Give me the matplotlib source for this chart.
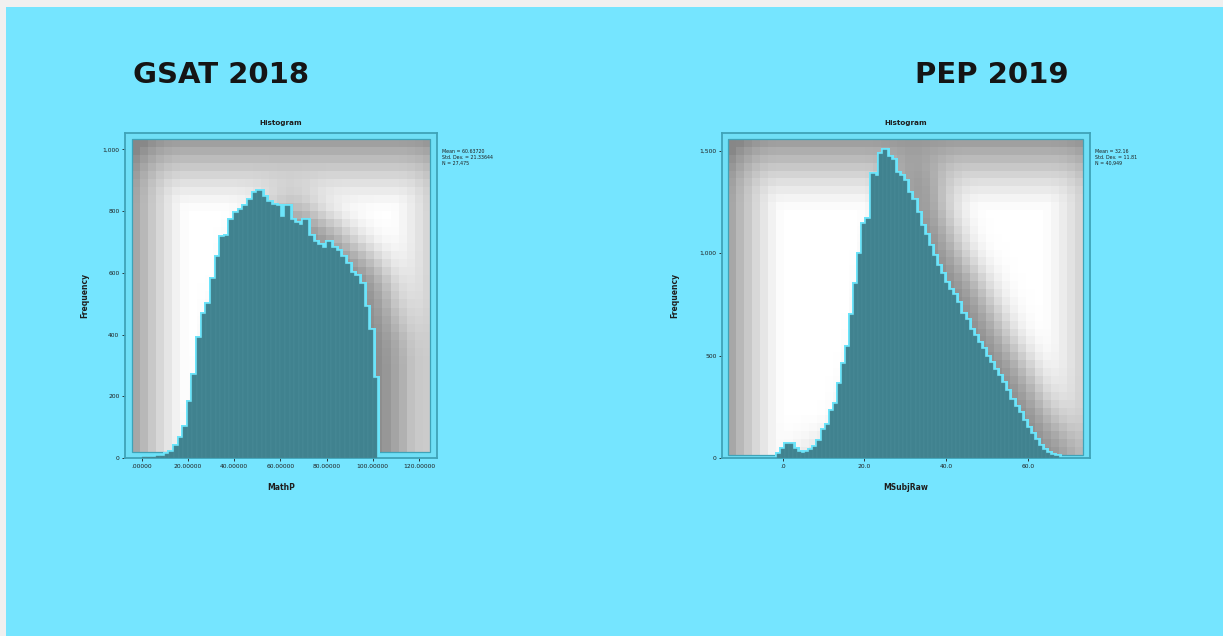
import numpy as np
import matplotlib
matplotlib.use("Agg")
import matplotlib.pyplot as plt
from matplotlib.patches import Rectangle

W, H, DPI = 1223, 636, 100

# GSAT 2018 maths percentage, bins of width 2
gsat_edges = np.arange(0, 104, 2)
gsat_counts = [2, 3, 4, 6, 8, 12, 20, 40, 65, 100,
               180, 270, 390, 465, 500, 580, 650, 715, 720, 770,
               795, 805, 815, 835, 860, 865, 845, 830, 820, 815,
               780, 815, 770, 760, 755, 770, 720, 700, 690, 680,
               700, 680, 670, 650, 630, 600, 590, 565, 490, 415, 260]
gsat_xticks = [0, 20, 40, 60, 80, 100, 120]
gsat_xticklabels = [".00000", "20.00000", "40.00000", "60.00000",
                    "80.00000", "100.00000", "120.00000"]
gsat_yticks = [0, 200, 400, 600, 800, 1000]
gsat_yticklabels = ["0", "200", "400", "600", "800", "1,000"]

# PEP 2019 maths raw score, one bar per mark (-1 .. 67)
pep_edges = np.arange(-1.5, 68.0, 1)
pep_counts = [20, 45, 70, 70, 45, 28, 22, 30, 38, 55,
              85, 135, 160, 230, 265, 360, 460, 540, 700, 850,
              995, 1140, 1165, 1385, 1375, 1485, 1505, 1470, 1455, 1390,
              1375, 1350, 1295, 1260, 1195, 1130, 1090, 1035, 985, 935,
              900, 855, 820, 795, 755, 705, 675, 625, 595, 560,
              530, 495, 465, 430, 400, 365, 325, 285, 250, 220,
              180, 145, 115, 90, 58, 40, 25, 15, 8]
pep_xticks = [0, 20, 40, 60]
pep_xticklabels = [".0", "20.0", "40.0", "60.0"]
pep_yticks = [0, 500, 1000, 1500]
pep_yticklabels = ["0", "500", "1,000", "1,500"]

CYAN = "#75E5FF"
FRAME = "#3FA3B8"
BAR = "#40828F"
HALO = "#6CE4FA"
INK = "#1E1E1E"

fig = plt.figure(figsize=(W / DPI, H / DPI), dpi=DPI, facecolor="#F0F0F0")
fig.patches.append(Rectangle((6 / W, 0), 1 - 6 / W, 1 - 7 / H,
                             transform=fig.transFigure, facecolor=CYAN,
                             edgecolor="none", zorder=-10))


def ftext(x, y, s, **kw):
    return fig.text(x / W, 1 - y / H, s, **kw)


def stats_text(edges, counts, dec):
    c = np.asarray(counts, float)
    mid = (np.asarray(edges[:-1]) + np.asarray(edges[1:])) / 2
    n = c.sum()
    mean = (c * mid).sum() / n
    sd = np.sqrt((c * (mid - mean) ** 2).sum() / (n - 1))
    return "Mean = %.*f\nStd. Dev. = %.*f\nN = %s" % (dec, mean, dec, sd,
                                                      format(int(n), ","))


def smooth(a, k):
    k = np.asarray(k, float)
    k /= k.sum()
    pad = len(k) // 2
    a = np.apply_along_axis(
        lambda r: np.convolve(np.pad(r, pad, mode="edge"), k, "valid"), 1, a)
    a = np.apply_along_axis(
        lambda r: np.convolve(np.pad(r, pad, mode="edge"), k, "valid"), 0, a)
    return a


def panel(box, xlim, ylim, edges, counts, xticks, xticklabels,
          yticks, yticklabels, xlabel, stats, inset):
    x0, y0, x1, y1 = box
    ax = fig.add_axes([x0 / W, 1 - y1 / H, (x1 - x0) / W, (y1 - y0) / H])
    ax.set_facecolor("#6FDFF6")
    sx = (x1 - x0) / (xlim[1] - xlim[0])
    sy = (y1 - y0) / (ylim[1] - ylim[0])

    def to_data(px, py):
        return xlim[0] + (px - x0) / sx, ylim[0] + (y1 - py) / sy

    # blocky grey gradient with a soft shadow of the histogram
    il, ir, it, ib = inset
    bx0, bx1, by0, by1 = x0 + il, x1 - ir, y0 + it, y1 - ib
    nx = int(round((bx1 - bx0) / 8))
    ny = int(round((by1 - by0) / 8))
    cx = bx0 + (np.arange(nx) + 0.5) * (bx1 - bx0) / nx
    cy = by0 + (np.arange(ny) + 0.5) * (by1 - by0) / ny
    CX, CY = np.meshgrid(cx, cy)
    dl, dr, dt = CX - bx0, bx1 - CX, CY - by0
    a_top = 0.40 * np.clip(1 - dt / 72, 0, 1) ** 1.3
    a_left = 0.38 * np.clip(1 - dl / 56, 0, 1) ** 1.3
    a_right = 0.18 * np.clip(1 - dr / 40, 0, 1) ** 1.3
    vig = 1 - np.minimum(np.sqrt(a_top ** 2 + a_left ** 2 + a_right ** 2),
                         0.47)
    xd, yd = to_data(CX, CY)
    xs = xd - 30 / sx
    idx = np.searchsorted(edges, xs, side="right") - 1
    ok = (idx >= 0) & (idx < len(counts))
    h = np.where(ok, np.asarray(counts)[np.clip(idx, 0, len(counts) - 1)], 0)
    mask = smooth((yd < h).astype(float), [1, 2, 3, 4, 5, 4, 3, 2, 1])
    img = np.clip(vig * (1 - 0.46 * mask), 0, 1)
    img = np.dstack([img, img, img])
    ex0, ey1 = to_data(bx0, by1)
    ex1, ey0 = to_data(bx1, by0)
    ax.imshow(img, extent=(ex0, ex1, ey1, ey0), origin="upper",
              interpolation="nearest", aspect="auto", zorder=0)
    ax.add_patch(Rectangle((ex0, ey1), ex1 - ex0, ey0 - ey1, fill=False,
                           edgecolor=FRAME, lw=0.9, zorder=1))

    ax.stairs(counts, edges, color=HALO, lw=3.6, zorder=2)
    ax.bar(edges[:-1], counts, width=np.diff(edges), align="edge",
           color=BAR, edgecolor="#4C8F9B", linewidth=0.3, zorder=3)

    ax.set_xlim(xlim)
    ax.set_ylim(ylim)
    ax.set_xticks(xticks, xticklabels)
    ax.set_yticks(yticks, yticklabels)
    ax.tick_params(direction="out", length=2.5, width=0.6, labelsize=4.3,
                   pad=1.5, colors=INK)
    for s in ax.spines.values():
        s.set_color(FRAME)
        s.set_linewidth(1.3)

    mid = (x0 + x1) / 2
    ftext(mid, 123, "Histogram", ha="center", va="center", fontsize=5.2,
          fontweight="bold", color=INK)
    ftext(mid, 488, xlabel, ha="center", va="center", fontsize=5.5,
          fontweight="bold", color=INK)
    ftext(x0 - 40 if x0 < 600 else x0 - 47, (y0 + y1) / 2, "Frequency",
          rotation=90, ha="center", va="center", fontsize=5.5,
          fontweight="bold", color=INK)
    ftext(x1 + 5, 149, stats, ha="left", va="top", fontsize=3.4,
          color=INK, linespacing=1.25)
    return ax


panel((125, 133, 437, 458), (-7.2, 127.8), (0, 1053),
      gsat_edges, gsat_counts, gsat_xticks, gsat_xticklabels,
      gsat_yticks, gsat_yticklabels, "MathP",
      stats_text(gsat_edges, gsat_counts, 5), (7, 7, 6, 6))

panel((722, 133, 1090, 458), (-14.85, 75.2), (0, 1586),
      pep_edges, pep_counts, pep_xticks, pep_xticklabels,
      pep_yticks, pep_yticklabels, "MSubjRaw",
      stats_text(pep_edges, pep_counts, 2), (6, 7, 6, 3))

ftext(133, 83, "GSAT 2018", ha="left", va="baseline", fontsize=21,
      fontweight="bold", color="#151515")
ftext(915, 83, "PEP 2019", ha="left", va="baseline", fontsize=21,
      fontweight="bold", color="#151515")

fig.savefig("out.png", dpi=DPI, facecolor=fig.get_facecolor())
